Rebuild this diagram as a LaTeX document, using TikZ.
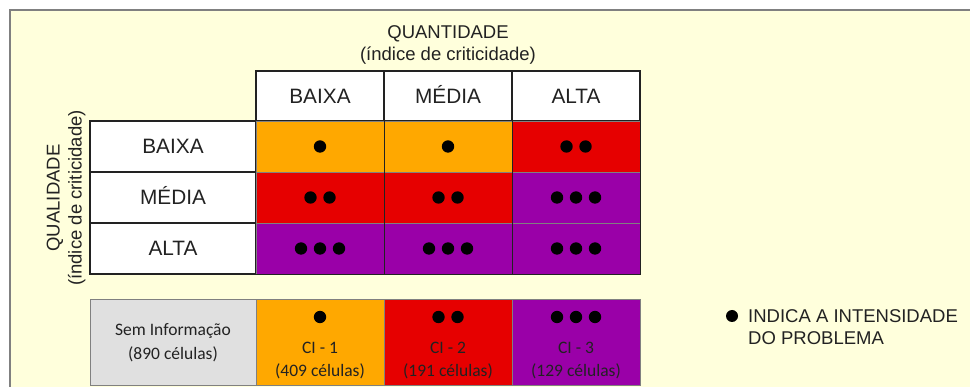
\documentclass[tikz,border=0pt]{standalone}
\usepackage{fontspec}
\setmainfont{Liberation Sans}
\newfontfamily\calib{Carlito}
\definecolor{paper}{HTML}{FFFFDC}
\definecolor{frameline}{HTML}{808080}
\definecolor{lowc}{HTML}{FFA800}
\definecolor{midc}{HTML}{E60000}
\definecolor{highc}{HTML}{9A00A8}
\definecolor{nodata}{HTML}{E0E0E0}
\definecolor{ink}{HTML}{222222}
\usetikzlibrary{calc}
% a row of #3 black marks centred on node #1, shifted down by #2
\newcommand\spotsat[3]{%
  \foreach \k in {1,...,#3}
    \fill[black] ($(#1)+({(\k-(#3+1)/2)*19},#2)$) circle (6.2);}
\newcommand\spots[2]{\spotsat{#1}{0}{#2}}
\begin{document}
\begin{tikzpicture}[x=1pt,y=-1pt,
  hdr/.style={draw=ink,line width=1.2pt,fill=white,inner sep=0,
    minimum width=128pt,minimum height=50pt,text=ink,
    text height=15pt,text depth=0pt,
    font=\fontsize{20.8}{24}\selectfont},
  rowlab/.style={hdr,minimum width=166pt,minimum height=51pt},
  cell/.style={draw=frameline,line width=0.8pt,inner sep=0,
    minimum width=128pt,minimum height=51pt},
  key/.style={draw=frameline,line width=1pt,inner sep=0,
    minimum height=86pt,text=ink,align=center,
    font=\calib\fontsize{17.5}{24}\selectfont},
  keytext/.style={text=ink,align=center,inner sep=0,
    font=\calib\fontsize{17.5}{23}\selectfont},
  axis/.style={text=ink,align=center,font=\fontsize{18.5}{22}\selectfont}]
\useasboundingbox (0,0) rectangle (970,387);
% page and frame
\fill[paper] (9,9) rectangle (970,387);
\draw[frameline,line width=2pt] (10,387) -- (10,10) -- (970,10);

% axis titles
\node[axis] (qty) at (448,45) {QUANTIDADE\\(índice de criticidade)};
\node[axis,rotate=90] (qual) at (66,198) {QUALIDADE\\(índice de criticidade)};

% column headers
\node[hdr] (h1) at (320,96) {BAIXA};
\node[hdr] (h2) at (448,96) {MÉDIA};
\node[hdr] (h3) at (576,96) {ALTA};

% row headers
\node[rowlab] (r1) at (173,146.5) {BAIXA};
\node[rowlab] (r2) at (173,197.5) {MÉDIA};
\node[rowlab] (r3) at (173,248.5) {ALTA};

% matrix cells
\node[cell,fill=lowc]  (c11) at (320,146.5) {};
\node[cell,fill=lowc]  (c12) at (448,146.5) {};
\node[cell,fill=midc]  (c13) at (576,146.5) {};
\node[cell,fill=midc]  (c21) at (320,197.5) {};
\node[cell,fill=midc]  (c22) at (448,197.5) {};
\node[cell,fill=highc] (c23) at (576,197.5) {};
\node[cell,fill=highc] (c31) at (320,248.5) {};
\node[cell,fill=highc] (c32) at (448,248.5) {};
\node[cell,fill=highc] (c33) at (576,248.5) {};

% dark column rules and outline of the coloured block
\draw[ink,line width=1.2pt] (c11.north east) -- (c31.south east);
\draw[ink,line width=1.2pt] (c12.north east) -- (c32.south east);
\draw[ink,line width=1.2pt] (c11.north west) -- (c31.south west)
  -- (c33.south east) -- (c13.north east);

% intensity marks
\spots{c11}{1} \spots{c12}{1} \spots{c13}{2}
\spots{c21}{2} \spots{c22}{2} \spots{c23}{3}
\spots{c31}{3} \spots{c32}{3} \spots{c33}{3}

% key boxes
\node[key,fill=nodata,minimum width=166pt] (k0) at (173,343)
  {Sem Informação\\(890 células)};
\node[key,fill=lowc,minimum width=128pt]  (k1) at (320,343) {};
\node[key,fill=midc,minimum width=128pt]  (k2) at (448,343) {};
\node[key,fill=highc,minimum width=128pt] (k3) at (576,343) {};
\node[keytext] (k1t) at ($(k1)+(0,17.5)$) {CI - 1\\(409 células)};
\node[keytext] (k2t) at ($(k2)+(0,17.5)$) {CI - 2\\(191 células)};
\node[keytext] (k3t) at ($(k3)+(0,17.5)$) {CI - 3\\(129 células)};
\spotsat{k1}{-26}{1}
\spotsat{k2}{-26}{2}
\spotsat{k3}{-26}{3}

% note
\node[circle,fill=black,inner sep=0,minimum size=12pt] (bullet) at (732,316) {};
\node[anchor=west,align=left,text=ink,inner sep=0,
  font=\fontsize{18.5}{22}\selectfont] (note) at (748,327)
  {INDICA A INTENSIDADE\\DO PROBLEMA};
\end{tikzpicture}
\end{document}
